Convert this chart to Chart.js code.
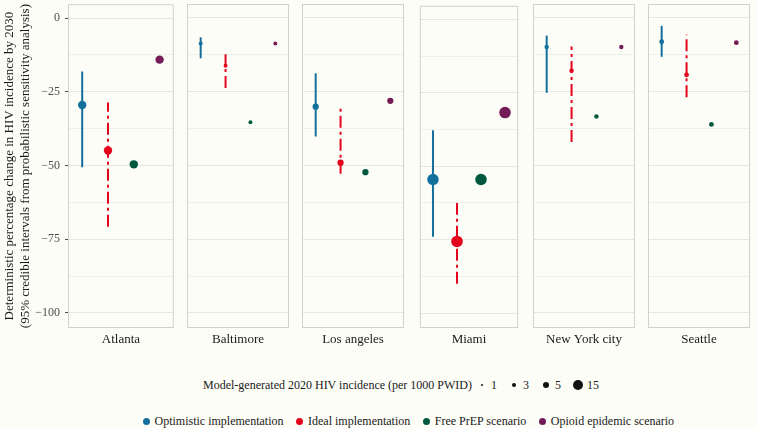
<!DOCTYPE html>
<html>
<head>
<meta charset="utf-8">
<script src="https://cdn.jsdelivr.net/npm/chart.js@4.4.1/dist/chart.umd.min.js"></script>
<style>
  body { margin: 0; background: #fdfdf8; width: 757px; height: 428px; position: relative; overflow: hidden;
         font-family: 'Liberation Serif', serif; }
  canvas { position: absolute; top: 0; }
  .legend { position: absolute; display: flex; align-items: center; font-size: 12px; line-height: 16px;
            color: #1a1a1a; white-space: nowrap; }
  .sizeTitle { display: inline-block; width: 262px; }
  .sizeItem { display: flex; align-items: center; margin-left: 11px; }
  .sizeKey { width: 12px; display: flex; justify-content: center; }
  .dot { border-radius: 50%; display: inline-block; }
  .colorItem { display: flex; align-items: center; margin-right: 13px; }
</style>
</head>
<body>
<div id="panels"></div>
<div id="sizeLegend" class="legend" style="left:203px; top:377px;"></div>
<div id="colorLegend" class="legend" style="left:143px; top:413px;"></div>

<script>
// Données
const cities = ['Atlanta', 'Baltimore', 'Los angeles', 'Miami', 'New York city', 'Seattle'];
const scenarios = ['Optimistic implementation', 'Ideal implementation', 'Free PrEP scenario', 'Opioid epidemic scenario'];
const scenarioColors = ['#13709d', '#e3051b', '#00583f', '#741c57'];

// incidence 2020 (per 1000 PWID) -> taille des points
const incidence2020 = [9, 2, 5, 17, 2.5, 3];

const optimistic     = [-29.5, -8.7, -30.1, -54.5, -9.9, -8.1];
const optimisticLow  = [-50.6, -13.7, -40.2, -74.0, -25.4, -13.2];
const optimisticHigh = [-18.1, -6.6, -18.8, -37.7, -6.0, -2.7];
const ideal          = [-44.9, -16.2, -49.1, -75.6, -17.9, -19.3];
const idealLow       = [-70.8, -23.8, -52.8, -90.0, -42.1, -26.9];
const idealHigh      = [-28.6, -12.3, -29.8, -62.5, -9.7, -5.7];
const freePrep       = [-49.6, -35.4, -52.3, -54.5, -33.4, -36.1];
const opioid         = [-14.1, -8.7, -28.1, -31.7, -9.9, -8.4];

const sizeLegendValues = [1, 3, 5, 15];
const yTickValues = [0, -25, -50, -75, -100];
const yGridValues = [-100, -87.5, -75, -62.5, -50, -37.5, -25, -12.5, 0];

const yTitle = ['Deterministic percentage change in HIV incidence by 2030',
                '(95% credible intervals from probabilistic sensitivity analysis)'];
const sizeLegendTitle = 'Model-generated 2020 HIV incidence (per 1000 PWID)';

// mise en page
const panelLefts = [68, 183, 298, 414, 529, 644];
const panelWidth = 110;
const axisWidth = 68;
const chartHeight = 347;
const xAxisHeight = 19;

Chart.defaults.font.family = "'Liberation Serif', serif";

function radiusFor(v) {
    return 1.4 * Math.sqrt(v);
}

function formatTick(v) {
    return v < 0 ? '\u2212' + Math.abs(v) : String(v);
}

// cadre gris autour de chaque panneau
const panelBox = {
    id: 'panelBox',
    afterDraw(chart) {
        const { ctx, chartArea: a } = chart;
        ctx.save();
        ctx.strokeStyle = '#d2d2cd';
        ctx.lineWidth = 1;
        ctx.strokeRect(a.left + 0.5, a.top + 0.5, a.right - a.left - 1, a.bottom - a.top - 1);
        ctx.restore();
    }
};

function buildDatasets(i) {
    const r = radiusFor(incidence2020[i]);
    const series = [optimistic, ideal, freePrep, opioid];
    const ds = series.map((arr, j) => ({
        type: 'scatter',
        data: [{ x: j + 1, y: arr[i] }],
        pointRadius: r,
        pointBackgroundColor: scenarioColors[j],
        pointBorderWidth: 0,
        order: 0
    }));
    ds.push({
        type: 'line',
        data: [{ x: 1, y: optimisticLow[i] }, { x: 1, y: optimisticHigh[i] }],
        borderColor: scenarioColors[0],
        borderWidth: 2,
        pointRadius: 0,
        order: 1
    });
    ds.push({
        type: 'line',
        data: [{ x: 2, y: idealLow[i] }, { x: 2, y: idealHigh[i] }],
        borderColor: scenarioColors[1],
        borderWidth: 2,
        borderDash: [12, 4, 3, 4],
        pointRadius: 0,
        order: 1
    });
    return ds;
}

function makePanel(i) {
    const first = i === 0;
    const canvas = document.createElement('canvas');
    const w = panelWidth + (first ? axisWidth : 0);
    canvas.width = w;
    canvas.height = chartHeight;
    canvas.style.width = w + 'px';
    canvas.style.height = chartHeight + 'px';
    canvas.style.left = (first ? 0 : panelLefts[i]) + 'px';
    document.getElementById('panels').appendChild(canvas);

    new Chart(canvas, {
        type: 'scatter',
        data: { datasets: buildDatasets(i) },
        plugins: [panelBox],
        options: {
            responsive: false,
            animation: false,
            events: [],
            layout: { padding: { top: 3, left: 0, right: 0, bottom: 0 } },
            plugins: { legend: { display: false }, tooltip: { enabled: false } },
            scales: {
                x: {
                    type: 'linear',
                    min: 0.45,
                    max: 4.55,
                    grid: { display: false },
                    border: { display: false },
                    ticks: { display: false },
                    title: {
                        display: true,
                        text: cities[i],
                        font: { size: 13 },
                        color: '#1a1a1a',
                        padding: { top: 0, bottom: 0 }
                    },
                    afterFit(s) { s.height = xAxisHeight; s.paddingLeft = 0; s.paddingRight = 0; }
                },
                y: {
                    min: -105.1,
                    max: 4.7,
                    afterBuildTicks(s) { s.ticks = yGridValues.map(v => ({ value: v })); },
                    ticks: {
                        display: first,
                        autoSkip: false,
                        padding: 5,
                        color: '#4d4d4d',
                        font: { size: 12 },
                        callback: v => yTickValues.includes(v) ? formatTick(v) : ''
                    },
                    grid: {
                        drawTicks: first,
                        tickLength: 3,
                        color: ctx => yTickValues.includes(ctx.tick.value) ? '#e6e6e2' : '#efefeb',
                        tickColor: ctx => yTickValues.includes(ctx.tick.value) ? '#4d4d4d' : 'rgba(0,0,0,0)'
                    },
                    border: { display: false },
                    title: {
                        display: first,
                        text: yTitle,
                        font: { size: 13, lineHeight: 1.25 },
                        color: '#1a1a1a',
                        padding: { top: 1, bottom: 0 }
                    },
                    afterFit(s) {
                        s.width = first ? axisWidth : 0;
                        s.paddingTop = 0;
                        s.paddingBottom = 0;
                    }
                }
            }
        }
    });
}

cities.forEach((c, i) => makePanel(i));

// légende des tailles
const sizeLegend = document.getElementById('sizeLegend');
const st = document.createElement('span');
st.className = 'sizeTitle';
st.textContent = sizeLegendTitle;
sizeLegend.appendChild(st);
sizeLegendValues.forEach(v => {
    const item = document.createElement('span');
    item.className = 'sizeItem';
    const d = 2 * radiusFor(v);
    item.innerHTML = '<span class="sizeKey"><span class="dot" style="width:' + d + 'px;height:' + d +
        'px;background:#111"></span></span><span style="margin-left:3px">' + v + '</span>';
    sizeLegend.appendChild(item);
});

// légende des scénarios
const colorLegend = document.getElementById('colorLegend');
scenarios.forEach((s, j) => {
    const item = document.createElement('span');
    item.className = 'colorItem';
    item.innerHTML = '<span class="dot" style="width:7px;height:7px;background:' + scenarioColors[j] +
        '"></span><span style="margin-left:4.5px">' + s + '</span>';
    colorLegend.appendChild(item);
});
</script>
</body>
</html>
